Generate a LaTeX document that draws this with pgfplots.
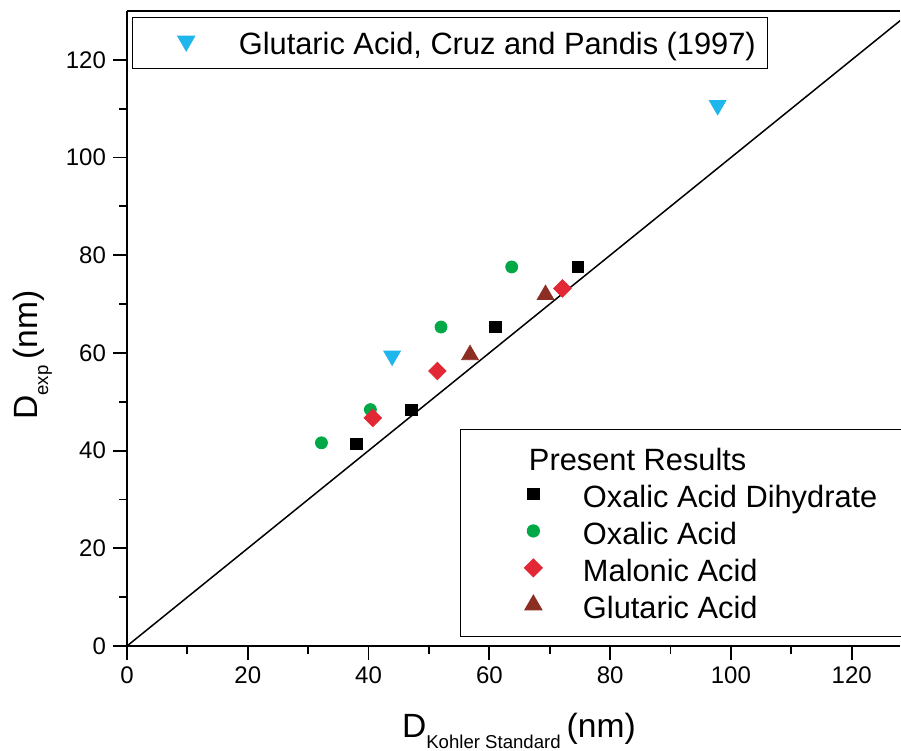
\documentclass[border=0pt]{standalone}
\usepackage{pgfplots}
\pgfplotsset{compat=1.18}
\usepackage{fontspec}
\setmainfont{Liberation Sans}
\definecolor{cgreen}{RGB}{0,168,70}
\definecolor{cred}{RGB}{226,40,52}
\definecolor{cbrown}{RGB}{140,46,36}
\definecolor{cblue}{RGB}{30,182,236}
\newcommand{\lbl}[2]{D\raisebox{-5.5pt}{\fontsize{9.3}{10}\selectfont #1}\hspace{3pt}#2}
\begin{document}
\begin{tikzpicture}
\begin{axis}[
  name=ax,
  scale only axis,
  width=386.5pt, height=317.5pt,
  xmin=0, xmax=128, ymin=0, ymax=130,
  axis x line*=box, axis y line*=left,
  xtick pos=bottom, ytick pos=left,
  xtick={0,20,...,120}, ytick={0,20,...,120},
  minor x tick num=1, minor y tick num=1,
  tick align=outside,
  major tick length=7pt, minor tick length=4pt,
  every tick/.style={black, line width=0.9pt},
  axis line style={line width=1pt},
  /pgf/number format/assume math mode=true,
  tick label style={font=\fontsize{12}{14}\selectfont},
  xlabel={\lbl{Kohler Standard}{(nm)}},
  ylabel={\lbl{exp}{(nm)}},
  label style={font=\fontsize{16.8}{19}\selectfont},
  xlabel style={at={(axis description cs:0.507,-0.1433)}, anchor=base},
  ylabel style={at={(axis description cs:-0.1164,0.458)}, anchor=base, rotate=0},
  legend image code/.code={\path (0pt,0pt) (60.5pt,0pt); \draw[#1, only marks] plot coordinates {(36pt,1pt)};},
  legend style={at={(rel axis cs:0.431,0.342)}, anchor=north west, draw=black, line width=0.6pt,
    inner xsep=0pt, inner ysep=7pt, row sep=3pt,
    font=\fontsize{15.4}{18}\selectfont,
    nodes={inner sep=0pt, text height=13.5pt, text depth=2pt}},
  legend cell align=left,
]
\addplot[black, line width=0.75pt, forget plot] coordinates {(0,0) (130,130)};
\addlegendimage{legend image code/.code={}}
\addlegendentry{\hspace*{-27pt}Present Results}
\addplot[only marks, mark=square*, mark size=2.8pt, black] coordinates {
 (38.0,41.4) (47.1,48.4) (61.0,65.3) (74.7,77.6)};
\addlegendentry{Oxalic Acid Dihydrate\hspace*{25pt}}
\addplot[only marks, mark=*, mark size=3pt, cgreen] coordinates {
 (32.2,41.6) (40.3,48.4) (52.0,65.3) (63.7,77.6)};
\addlegendentry{Oxalic Acid}
\addplot[only marks, mark=square*, mark size=3.1pt, mark options={rotate=45}, cred] coordinates {
 (40.7,46.7) (51.4,56.3) (72.1,73.2)};
\addlegendentry{Malonic Acid}
\addplot[only marks, mark=triangle*, mark size=4.8pt, cbrown] coordinates {
 (56.8,59.6) (69.3,71.9)};
\addlegendentry{Glutaric Acid}
\end{axis}
\begin{axis}[
  scale only axis,
  width=386.5pt, height=317.5pt,
  xmin=0, xmax=128, ymin=0, ymax=130,
  hide axis,
  legend image code/.code={\path (0pt,0pt) (52.5pt,0pt); \draw[#1, only marks] plot coordinates {(26.5pt,1pt)};},
  legend style={at={(rel axis cs:0.0065,0.9906)}, anchor=north west, draw=black, line width=0.6pt,
    inner xsep=0pt, inner ysep=5pt,
    font=\fontsize{15.4}{18}\selectfont,
    nodes={inner sep=0pt, text height=13.5pt, text depth=2pt}},
  legend cell align=left,
]
\addplot[only marks, mark=triangle*, mark size=4.8pt, mark options={rotate=180}, cblue] coordinates {
 (43.9,59.4) (97.8,110.7)};
\addlegendentry{Glutaric Acid, Cruz and Pandis (1997)\hspace*{6pt}}
\end{axis}
\pgfresetboundingbox
\path ([shift={(-63.5pt,-52pt)}]ax.south west) rectangle ([shift={(0.5pt,5.5pt)}]ax.north east);
\end{tikzpicture}
\end{document}
